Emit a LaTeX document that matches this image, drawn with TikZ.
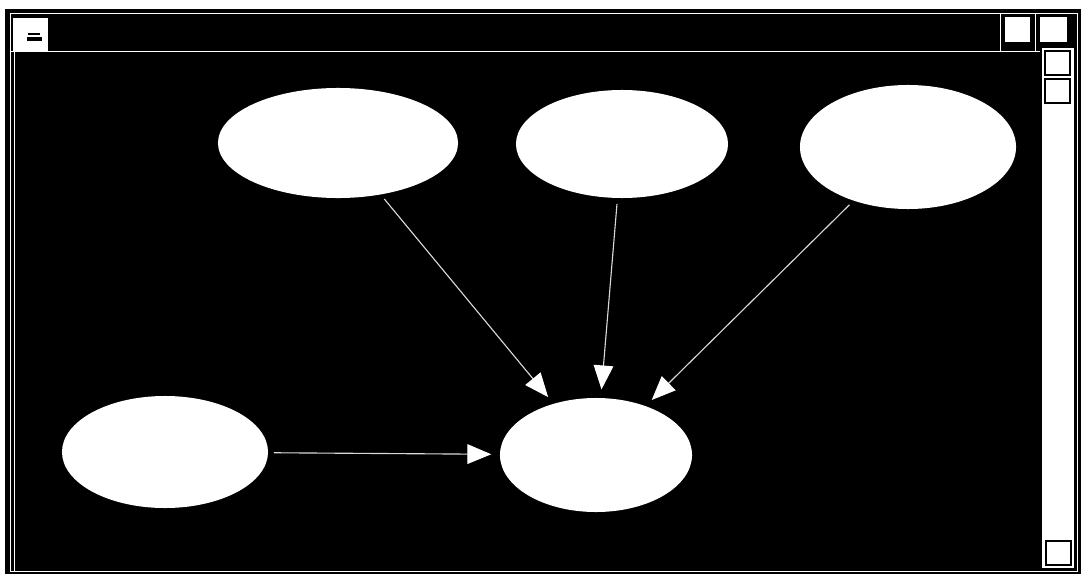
\documentclass[tikz,border=0pt]{standalone}
\usepackage{tikz}
\usetikzlibrary{shapes.geometric,arrows.meta}

\begin{document}
\begin{tikzpicture}[x=0.025cm, y=-0.025cm,
    blob/.style={ellipse, fill=white, inner sep=0pt},
    link/.style={draw=white!85!black, line width=0.8pt,
        -{Triangle[length=17pt,width=14pt,color=white]},
        shorten <=4pt, shorten >=6pt},
    btn/.style={fill=white, draw=black, line width=1.5pt}]
    \useasboundingbox (0,0) rectangle (1084,578);

    % Window frame
    \fill[black] (5,9) rectangle (1081,574);
    \draw[white, line width=0.6pt] (10,13) rectangle (1077,571);
    \draw[white, line width=0.6pt] (10,51) -- (1040,51);
    \draw[white, line width=0.6pt] (14,51) -- (14,571);
    \fill[white] (1042,48) rectangle (1074,568);

    % Title bar
    \fill[white] (13,18) rectangle (48,52);
    \fill[black] (28,33) rectangle (40,35.5);
    \fill[black] (27,37.5) rectangle (42,41);
    \draw[white, line width=0.6pt] (1000,13) -- (1000,51);
    \draw[white, line width=0.6pt] (1035,13) -- (1035,51);
    \draw[btn] (1004,16) rectangle (1031,43);
    \draw[btn] (1039,16) rectangle (1068,43);

    % Scroll bar
    \draw[btn] (1045,51) rectangle (1070,75);
    \draw[btn] (1045,79) rectangle (1070,103);
    \draw[btn] (1046,541) rectangle (1071,565);

    % Nodes
    \node[blob, minimum width=6.0cm, minimum height=2.75cm] (tl) at (338,143) {};
    \node[blob, minimum width=5.3cm, minimum height=2.7cm] (tm) at (622,144) {};
    \node[blob, minimum width=5.4cm, minimum height=3.1cm] (tr) at (908,147) {};
    \node[blob, minimum width=5.15cm, minimum height=2.8cm] (bl) at (165,452) {};
    \node[blob, minimum width=4.8cm, minimum height=2.85cm] (bc) at (596,455) {};

    % Edges
    \draw[link] (tl) -- (bc);
    \draw[link] (tm) -- (bc);
    \draw[link] (tr) -- (bc);
    \draw[link] (bl) -- (bc);
\end{tikzpicture}
\end{document}
